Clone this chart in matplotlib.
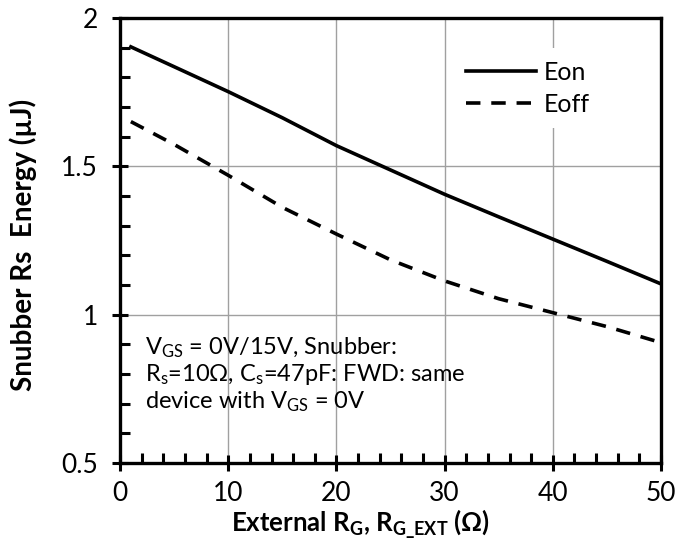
import numpy as np
import matplotlib
matplotlib.use('Agg')
import matplotlib.pyplot as plt
from matplotlib.patches import Rectangle
from matplotlib.ticker import MultipleLocator

plt.rcParams['font.family'] = ['Lato', 'DejaVu Sans']
plt.rcParams['mathtext.fontset'] = 'custom'
plt.rcParams['mathtext.rm'] = 'Lato'
plt.rcParams['mathtext.it'] = 'Lato'
plt.rcParams['mathtext.bf'] = 'Lato:bold'

# values
rg = [1, 5, 10, 15, 20, 25, 30, 35, 40, 45, 50]
eon = [1.903, 1.836, 1.752, 1.664, 1.570, 1.488, 1.406, 1.330, 1.255, 1.180, 1.104]
eoff = [1.651, 1.574, 1.470, 1.362, 1.272, 1.185, 1.114, 1.054, 1.007, 0.960, 0.906]

fig = plt.figure(figsize=(6.94, 5.48), dpi=100)
ax = fig.add_axes([0.173, 0.155, 0.7794, 0.812])

ax.plot(rg, eon, '-', color='black', lw=2.6, label='Eon', zorder=4)
ax.plot(rg, eoff, '--', color='black', lw=2.6, dashes=(4, 3), label='Eoff', zorder=4)

ax.set_xlim(0, 50)
ax.set_ylim(0.5, 2)
ax.xaxis.set_major_locator(MultipleLocator(10))
ax.xaxis.set_minor_locator(MultipleLocator(2))
ax.yaxis.set_minor_locator(MultipleLocator(0.1))
ax.set_yticks([0.5, 1, 1.5, 2])
ax.set_yticklabels(['0.5', '1', '1.5', '2'])

ax.grid(True, which='major', color='#a0a0a0', lw=1.0, zorder=0)
ax.tick_params(which='major', direction='inout', length=12, width=2.2, labelsize=19)
ax.tick_params(axis='x', which='major', pad=7)
ax.tick_params(axis='y', which='major', pad=10)
ax.tick_params(which='minor', direction='in', length=7, width=2.2)
for s in ax.spines.values():
    s.set_linewidth(2.4)

ax.set_xlabel(r'External R$_{\mathbf{G}}$, R$_{\mathbf{G\_EXT}}$ ($\mathbf{\Omega}$)',
              fontsize=18.5, fontweight='bold')
ax.xaxis.set_label_coords(0.444, -0.1)
ax.set_ylabel('Snubber Rs  Energy (µJ)', fontsize=20, fontweight='bold')
ax.yaxis.set_label_coords(-0.153, 0.49)

leg = ax.legend(loc='upper right', bbox_to_anchor=(0.914, 0.96), fontsize=18, frameon=True,
                handlelength=2.8, handletextpad=0.3, borderpad=0.5, labelspacing=0.35)
leg.get_frame().set_edgecolor('none')
leg.get_frame().set_facecolor('white')
leg.get_frame().set_alpha(1)

ax.add_patch(Rectangle((0.009, 0.056), 0.62, 0.254, transform=ax.transAxes,
                       facecolor='white', edgecolor='none', zorder=1))
ax.text(0.046, 0.285,
        'V$_{GS}$ = 0V/15V, Snubber:\n'
        'R$_{s}$=10Ω, C$_{s}$=47pF: FWD: same\n'
        'device with V$_{GS}$ = 0V',
        transform=ax.transAxes, fontsize=17, va='top', ha='left',
        linespacing=1.1, zorder=2)

plt.savefig('out.png', dpi=100)
